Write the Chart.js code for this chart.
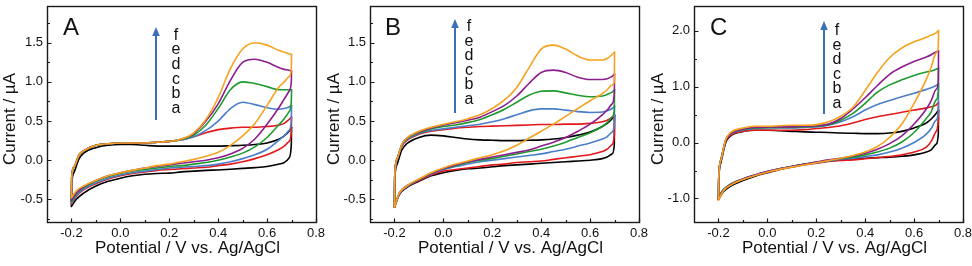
<!DOCTYPE html>
<html><head><meta charset="utf-8">
<script src="https://cdn.jsdelivr.net/npm/chart.js@4.4.1/dist/chart.umd.min.js"></script>
<style>
html,body{margin:0;padding:0;background:#fff;}
#wrap{position:relative;width:972px;height:266px;overflow:hidden;background:#fff;}
.pane{position:absolute;top:0;width:340px;height:266px;}
canvas{display:block;}
</style></head><body>
<div id="wrap">
<div class="pane" style="left:0px"><canvas id="cA" width="340" height="266"></canvas></div>
<div class="pane" style="left:324px"><canvas id="cB" width="340" height="266"></canvas></div>
<div class="pane" style="left:648px"><canvas id="cC" width="340" height="266"></canvas></div>
</div>
<script>
// ---------- potential grids (V vs. Ag/AgCl) ----------
const potentialForward = [-0.199, -0.19, -0.17, -0.15, -0.1, -0.05, 0, 0.05, 0.1, 0.15, 0.2, 0.25, 0.3, 0.35, 0.4, 0.45, 0.5, 0.55, 0.6, 0.65, 0.67, 0.69, 0.7];
const potentialReverse = [0.699, 0.69, 0.67, 0.65, 0.6, 0.55, 0.5, 0.45, 0.4, 0.35, 0.3, 0.25, 0.2, 0.15, 0.1, 0.05, 0, -0.05, -0.1, -0.15, -0.18, -0.2];

// ---------- panel A currents (µA) ----------
const A_a_fwd = [-0.33, -0.16, 0.01, 0.09, 0.16, 0.19, 0.2, 0.2, 0.19, 0.18, 0.18, 0.18, 0.18, 0.18, 0.18, 0.185, 0.19, 0.2, 0.22, 0.27, 0.31, 0.37, 0.42];
const A_b_fwd = [-0.22, -0.09, 0.06, 0.12, 0.19, 0.21, 0.22, 0.22, 0.22, 0.23, 0.24, 0.26, 0.3, 0.35, 0.39, 0.41, 0.42, 0.42, 0.43, 0.45, 0.47, 0.52, 0.55];
const A_c_fwd = [-0.22, -0.09, 0.06, 0.12, 0.19, 0.21, 0.22, 0.22, 0.22, 0.23, 0.24, 0.26, 0.3, 0.38, 0.5, 0.66, 0.74, 0.71, 0.67, 0.65, 0.66, 0.68, 0.7];
const A_d_fwd = [-0.22, -0.09, 0.06, 0.12, 0.19, 0.21, 0.22, 0.22, 0.22, 0.23, 0.24, 0.26, 0.32, 0.45, 0.66, 0.9, 1.0, 0.98, 0.94, 0.9, 0.9, 0.9, 0.9];
const A_e_fwd = [-0.22, -0.09, 0.06, 0.12, 0.19, 0.21, 0.22, 0.22, 0.22, 0.23, 0.24, 0.27, 0.34, 0.5, 0.72, 1.02, 1.25, 1.29, 1.25, 1.18, 1.16, 1.15, 1.14];
const A_f_fwd = [-0.22, -0.09, 0.06, 0.12, 0.19, 0.21, 0.22, 0.22, 0.22, 0.23, 0.24, 0.27, 0.35, 0.52, 0.8, 1.17, 1.42, 1.5, 1.47, 1.4, 1.38, 1.36, 1.35];
const A_a_rev = [0.2, 0.03, -0.03, -0.05, -0.08, -0.095, -0.105, -0.115, -0.125, -0.13, -0.14, -0.15, -0.165, -0.17, -0.18, -0.2, -0.23, -0.27, -0.33, -0.42, -0.5, -0.59];
const A_b_rev = [0.35, 0.24, 0.18, 0.14, 0.07, 0.02, -0.02, -0.05, -0.07, -0.09, -0.1, -0.11, -0.12, -0.13, -0.15, -0.17, -0.2, -0.24, -0.3, -0.38, -0.46, -0.56];
const A_c_rev = [0.5, 0.38, 0.31, 0.26, 0.14, 0.07, 0.02, -0.02, -0.05, -0.07, -0.08, -0.09, -0.1, -0.12, -0.14, -0.16, -0.19, -0.23, -0.29, -0.37, -0.45, -0.55];
const A_d_rev = [0.75, 0.62, 0.53, 0.46, 0.29, 0.17, 0.09, 0.04, 0.0, -0.03, -0.05, -0.07, -0.08, -0.1, -0.12, -0.14, -0.17, -0.21, -0.27, -0.35, -0.43, -0.53];
const A_e_rev = [1.0, 0.88, 0.78, 0.68, 0.46, 0.27, 0.15, 0.08, 0.03, 0.0, -0.02, -0.04, -0.06, -0.08, -0.1, -0.13, -0.16, -0.2, -0.26, -0.34, -0.42, -0.51];
const A_f_rev = [1.15, 1.07, 1.0, 0.94, 0.7, 0.47, 0.31, 0.19, 0.1, 0.05, 0.01, -0.02, -0.05, -0.07, -0.1, -0.13, -0.16, -0.2, -0.26, -0.33, -0.39, -0.48];

// ---------- panel B currents (µA) ----------
const B_a_fwd = [-0.28, -0.06, 0.13, 0.21, 0.29, 0.32, 0.31, 0.29, 0.27, 0.26, 0.255, 0.25, 0.25, 0.255, 0.26, 0.27, 0.29, 0.32, 0.36, 0.43, 0.47, 0.53, 0.57];
const B_b_fwd = [-0.22, 0.01, 0.18, 0.25, 0.33, 0.37, 0.39, 0.41, 0.42, 0.43, 0.435, 0.44, 0.445, 0.45, 0.455, 0.455, 0.46, 0.46, 0.47, 0.49, 0.51, 0.55, 0.58];
const B_c_fwd = [-0.22, 0.01, 0.19, 0.26, 0.34, 0.38, 0.4, 0.42, 0.44, 0.46, 0.49, 0.53, 0.58, 0.63, 0.655, 0.655, 0.64, 0.62, 0.61, 0.615, 0.63, 0.66, 0.69];
const B_d_fwd = [-0.22, 0.01, 0.19, 0.27, 0.35, 0.4, 0.43, 0.45, 0.48, 0.52, 0.58, 0.65, 0.74, 0.83, 0.88, 0.885, 0.86, 0.83, 0.81, 0.82, 0.84, 0.87, 0.9];
const B_e_fwd = [-0.22, 0.01, 0.2, 0.28, 0.36, 0.41, 0.45, 0.48, 0.51, 0.55, 0.62, 0.7, 0.82, 0.98, 1.12, 1.15, 1.12, 1.06, 1.03, 1.03, 1.04, 1.07, 1.1];
const B_f_fwd = [-0.22, 0.01, 0.2, 0.28, 0.37, 0.42, 0.46, 0.49, 0.53, 0.58, 0.66, 0.77, 0.93, 1.18, 1.42, 1.47, 1.42, 1.33, 1.28, 1.28, 1.3, 1.35, 1.38];
const B_a_rev = [0.2, 0.08, 0.04, 0.02, 0.0, -0.01, -0.02, -0.03, -0.04, -0.05, -0.06, -0.07, -0.085, -0.1, -0.11, -0.13, -0.16, -0.2, -0.27, -0.35, -0.44, -0.6];
const B_b_rev = [0.32, 0.2, 0.14, 0.11, 0.07, 0.05, 0.03, 0.01, -0.01, -0.02, -0.03, -0.05, -0.06, -0.08, -0.1, -0.12, -0.14, -0.19, -0.26, -0.34, -0.43, -0.6];
const B_c_rev = [0.45, 0.36, 0.3, 0.27, 0.22, 0.18, 0.14, 0.11, 0.08, 0.06, 0.04, 0.02, 0.0, -0.02, -0.05, -0.08, -0.12, -0.18, -0.25, -0.34, -0.43, -0.6];
const B_d_rev = [0.65, 0.55, 0.48, 0.43, 0.35, 0.29, 0.23, 0.18, 0.14, 0.11, 0.08, 0.05, 0.02, 0.0, -0.03, -0.07, -0.11, -0.17, -0.25, -0.33, -0.42, -0.6];
const B_e_rev = [0.85, 0.72, 0.64, 0.58, 0.46, 0.37, 0.29, 0.23, 0.18, 0.13, 0.1, 0.07, 0.04, 0.01, -0.02, -0.06, -0.11, -0.17, -0.25, -0.33, -0.42, -0.6];
const B_f_rev = [1.0, 0.96, 0.9, 0.85, 0.76, 0.66, 0.56, 0.46, 0.37, 0.28, 0.19, 0.12, 0.07, 0.03, -0.01, -0.05, -0.1, -0.16, -0.24, -0.33, -0.42, -0.6];

// ---------- panel C currents (µA) ----------
const C_a_fwd = [-0.7, -0.36, 0.0, 0.12, 0.2, 0.22, 0.22, 0.21, 0.2, 0.19, 0.185, 0.18, 0.17, 0.165, 0.16, 0.16, 0.17, 0.2, 0.26, 0.35, 0.42, 0.52, 0.58];
const C_b_fwd = [-0.65, -0.31, 0.03, 0.13, 0.2, 0.22, 0.22, 0.22, 0.22, 0.23, 0.25, 0.27, 0.3, 0.35, 0.41, 0.46, 0.5, 0.54, 0.58, 0.62, 0.64, 0.67, 0.72];
const C_c_fwd = [-0.65, -0.31, 0.04, 0.15, 0.22, 0.25, 0.26, 0.26, 0.26, 0.27, 0.28, 0.31, 0.37, 0.46, 0.58, 0.68, 0.75, 0.82, 0.88, 0.95, 0.98, 1.02, 1.05];
const C_d_fwd = [-0.65, -0.31, 0.05, 0.16, 0.23, 0.26, 0.27, 0.27, 0.27, 0.28, 0.29, 0.32, 0.4, 0.52, 0.7, 0.9, 1.03, 1.12, 1.2, 1.26, 1.28, 1.31, 1.33];
const C_e_fwd = [-0.65, -0.31, 0.05, 0.16, 0.24, 0.27, 0.28, 0.28, 0.28, 0.29, 0.3, 0.33, 0.43, 0.6, 0.8, 1.02, 1.22, 1.35, 1.45, 1.53, 1.57, 1.62, 1.64];
const C_f_fwd = [-0.65, -0.31, 0.06, 0.18, 0.26, 0.29, 0.29, 0.3, 0.31, 0.31, 0.32, 0.37, 0.47, 0.63, 0.93, 1.25, 1.52, 1.69, 1.8, 1.88, 1.92, 1.96, 2.0];
const C_a_rev = [0.15, -0.03, -0.13, -0.17, -0.22, -0.245, -0.26, -0.27, -0.28, -0.29, -0.31, -0.33, -0.36, -0.39, -0.43, -0.48, -0.54, -0.6, -0.68, -0.78, -0.88, -1.02];
const C_b_rev = [0.4, 0.2, 0.02, -0.08, -0.17, -0.22, -0.25, -0.27, -0.29, -0.31, -0.32, -0.34, -0.37, -0.4, -0.44, -0.48, -0.53, -0.59, -0.66, -0.76, -0.86, -1.02];
const C_c_rev = [0.55, 0.4, 0.25, 0.15, 0.0, -0.1, -0.17, -0.22, -0.25, -0.28, -0.3, -0.33, -0.36, -0.39, -0.43, -0.47, -0.52, -0.58, -0.65, -0.75, -0.85, -1.0];
const C_d_rev = [0.9, 0.76, 0.55, 0.43, 0.18, 0.01, -0.1, -0.17, -0.22, -0.26, -0.29, -0.32, -0.35, -0.39, -0.43, -0.47, -0.52, -0.58, -0.65, -0.74, -0.84, -0.96];
const C_e_rev = [1.1, 0.95, 0.75, 0.6, 0.33, 0.12, -0.02, -0.12, -0.19, -0.24, -0.28, -0.31, -0.35, -0.39, -0.43, -0.47, -0.52, -0.58, -0.65, -0.75, -0.85, -1.01];
const C_f_rev = [1.7, 1.6, 1.35, 1.13, 0.7, 0.33, 0.09, -0.07, -0.17, -0.23, -0.28, -0.32, -0.36, -0.4, -0.44, -0.48, -0.53, -0.59, -0.66, -0.76, -0.86, -1.03];

// ---------- ticks & labels ----------
const xTicks = [-0.2, 0.0, 0.2, 0.4, 0.6, 0.8];
const xMinorTicks = [-0.1, 0.1, 0.3, 0.5, 0.7];
const yTicksAB = [-0.5, 0.0, 0.5, 1.0, 1.5];
const yMinorTicksAB = [-0.75, -0.25, 0.25, 0.75, 1.25, 1.75];
const yTicksC = [-1.0, 0.0, 1.0, 2.0];
const yMinorTicksC = [-0.5, 0.5, 1.5];
const curveLabels = ['f', 'e', 'd', 'c', 'b', 'a'];
const panelLetters = ['A', 'B', 'C'];
const xTitle = 'Potential / V vs. Ag/AgCl';
const yTitle = 'Current / µA';

const curveColors = ['#000000', '#e3181b', '#4a7ec8', '#1e9a2e', '#8c1d8c', '#f5a31f'];
const arrowColor = '#3b6fb6';
const FONT = '"Liberation Sans", Arial, Helvetica, sans-serif';

function buildDatasets(fwdList, revList) {
  const ds = [];
  fwdList.forEach((fwd, i) => {
    const rev = revList[i];
    const fPts = [{x: potentialReverse[potentialReverse.length - 1], y: rev[rev.length - 1]}]
      .concat(potentialForward.map((v, k) => ({x: v, y: fwd[k]})));
    const rPts = [{x: potentialForward[potentialForward.length - 1], y: fwd[fwd.length - 1]}]
      .concat(potentialReverse.map((v, k) => ({x: v, y: rev[k]})));
    [fPts, rPts].forEach(pts => ds.push({
      data: pts, showLine: true, borderColor: curveColors[i], backgroundColor: curveColors[i],
      borderWidth: 1.6, pointRadius: 0, pointHoverRadius: 0, fill: false,
      borderJoinStyle: 'round', borderCapStyle: 'round',
      cubicInterpolationMode: 'monotone', tension: 0.4,
      order: fwdList.length - i
    }));
  });
  return ds;
}

const decor = {
  id: 'decor',
  afterDraw(chart, args, o) {
    const {ctx, chartArea: ca, scales: {x, y}} = chart;
    ctx.save();
    ctx.strokeStyle = '#1a1a1a';
    ctx.lineWidth = 1.4;
    ctx.strokeRect(ca.left + 0.5, ca.top + 0.5, ca.right - ca.left, ca.bottom - ca.top);
    ctx.lineWidth = 1.2;
    ctx.beginPath();
    const b = ca.bottom + 0.5, l = ca.left + 0.5;
    o.xMajor.forEach(v => { const p = Math.round(x.getPixelForValue(v)) + 0.5; ctx.moveTo(p, b); ctx.lineTo(p, b - 4); });
    o.xMinor.forEach(v => { const p = Math.round(x.getPixelForValue(v)) + 0.5; ctx.moveTo(p, b); ctx.lineTo(p, b - 2.5); });
    o.yMajor.forEach(v => { const p = Math.round(y.getPixelForValue(v)) + 0.5; ctx.moveTo(l, p); ctx.lineTo(l + 4, p); });
    o.yMinor.forEach(v => { const p = Math.round(y.getPixelForValue(v)) + 0.5; ctx.moveTo(l, p); ctx.lineTo(l + 2.5, p); });
    ctx.stroke();

    ctx.fillStyle = '#111';
    // axis titles
    ctx.font = '17px ' + FONT;
    ctx.textAlign = 'center';
    ctx.textBaseline = 'alphabetic';
    ctx.fillText(xTitle, (ca.left + ca.right) / 2 + 6, 253);
    ctx.save();
    ctx.translate(15, 119);
    ctx.rotate(-Math.PI / 2);
    ctx.fillText(yTitle, 0, 0);
    ctx.restore();
    // panel letter
    ctx.font = '24px ' + FONT;
    ctx.textAlign = 'left';
    ctx.fillText(o.letter, o.letterX, 35);
    // arrow
    ctx.strokeStyle = arrowColor;
    ctx.fillStyle = arrowColor;
    ctx.lineWidth = 2;
    ctx.beginPath();
    ctx.moveTo(o.arrowX, o.arrowTail);
    ctx.lineTo(o.arrowX, o.arrowTip + 8);
    ctx.stroke();
    ctx.beginPath();
    ctx.moveTo(o.arrowX, o.arrowTip);
    ctx.lineTo(o.arrowX - 3.8, o.arrowTip + 9);
    ctx.lineTo(o.arrowX + 3.8, o.arrowTip + 9);
    ctx.closePath();
    ctx.fill();
    // curve labels
    ctx.fillStyle = '#111';
    ctx.font = '16px ' + FONT;
    ctx.textAlign = 'center';
    curveLabels.forEach((t, i) => ctx.fillText(t, o.labelX, o.labelTop + i * o.labelStep));
    ctx.restore();
  }
};

function makePanel(id, fwdList, revList, yMin, yMax, yMajor, yMinor, geo) {
  const chart = new Chart(document.getElementById(id), {
    type: 'scatter',
    data: {datasets: buildDatasets(fwdList, revList)},
    options: {
      responsive: false, animation: false, devicePixelRatio: 1,
      layout: {padding: {left: 0, top: 6, right: 340 - geo.right, bottom: 0}},
      plugins: {legend: {display: false}, tooltip: {enabled: false}, decor: geo.decor},
      events: [],
      scales: {
        x: {
          type: 'linear', min: -0.3, max: 0.8,
          afterBuildTicks: s => { s.ticks = xTicks.map(v => ({value: v})); },
          afterFit: s => { s.height = 44; s.paddingLeft = 0; s.paddingRight = 0; },
          grid: {display: false, drawTicks: false}, border: {display: false},
          ticks: {padding: 4, font: {family: FONT, size: 13}, color: '#111', maxRotation: 0, autoSkip: false,
                  callback: v => Number(v).toFixed(1)}
        },
        y: {
          type: 'linear', min: yMin, max: yMax,
          afterBuildTicks: s => { s.ticks = yMajor.map(v => ({value: v})); },
          afterFit: s => { s.width = geo.left; s.paddingTop = 0; s.paddingBottom = 0; },
          grid: {display: false, drawTicks: false}, border: {display: false},
          ticks: {padding: 4, font: {family: FONT, size: 13}, color: '#111', autoSkip: false,
                  callback: v => Number(v).toFixed(1)}
        }
      }
    },
    plugins: [decor]
  });
  return chart;
}

makePanel('cA',
  [A_a_fwd, A_b_fwd, A_c_fwd, A_d_fwd, A_e_fwd, A_f_fwd],
  [A_a_rev, A_b_rev, A_c_rev, A_d_rev, A_e_rev, A_f_rev],
  -0.79, 1.97, yTicksAB, yMinorTicksAB,
  {left: 47, right: 316, decor: {xMajor: xTicks, xMinor: xMinorTicks, yMajor: yTicksAB, yMinor: yMinorTicksAB,
    letter: panelLetters[0], letterX: 63, arrowX: 156, arrowTip: 27, arrowTail: 120, labelX: 176, labelTop: 39.5, labelStep: 14.7}});
makePanel('cB',
  [B_a_fwd, B_b_fwd, B_c_fwd, B_d_fwd, B_e_fwd, B_f_fwd],
  [B_a_rev, B_b_rev, B_c_rev, B_d_rev, B_e_rev, B_f_rev],
  -0.79, 1.97, yTicksAB, yMinorTicksAB,
  {left: 46, right: 315, decor: {xMajor: xTicks, xMinor: xMinorTicks, yMajor: yTicksAB, yMinor: yMinorTicksAB,
    letter: panelLetters[1], letterX: 61, arrowX: 131, arrowTip: 19, arrowTail: 113, labelX: 145, labelTop: 31, labelStep: 14.6}});
makePanel('cC',
  [C_a_fwd, C_b_fwd, C_c_fwd, C_d_fwd, C_e_fwd, C_f_fwd],
  [C_a_rev, C_b_rev, C_c_rev, C_d_rev, C_e_rev, C_f_rev],
  -1.42, 2.44, yTicksC, yMinorTicksC,
  {left: 46, right: 315, decor: {xMajor: xTicks, xMinor: xMinorTicks, yMajor: yTicksC, yMinor: yMinorTicksC,
    letter: panelLetters[2], letterX: 62, arrowX: 176, arrowTip: 21, arrowTail: 114, labelX: 189, labelTop: 35, labelStep: 14.5}});
</script>
</body></html>
